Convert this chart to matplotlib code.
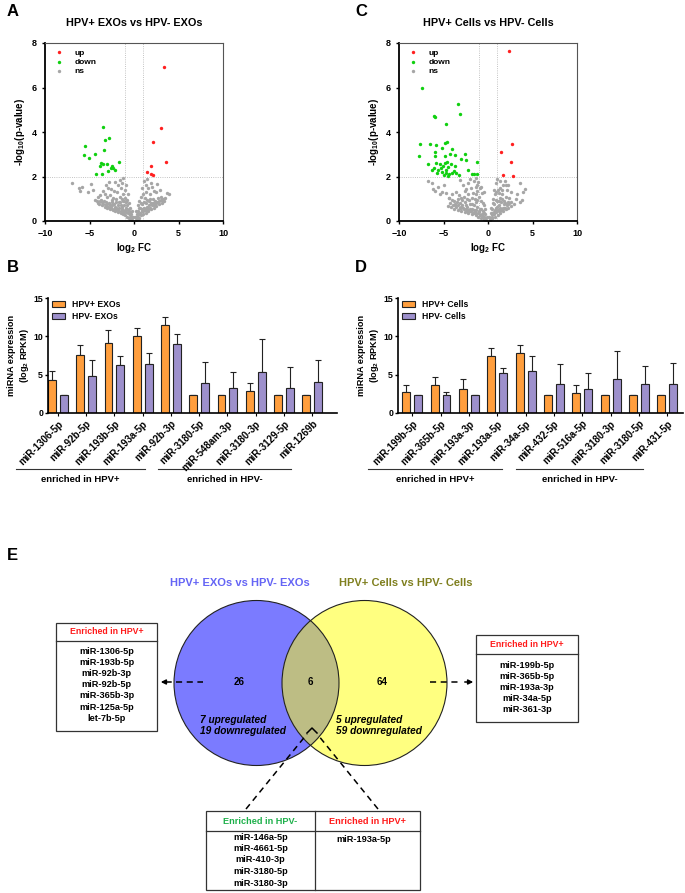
import matplotlib.pyplot as plt
from matplotlib.patches import Circle, Rectangle

plt.rcParams['font.family'] = ['Liberation Sans', 'DejaVu Sans']
plt.rcParams['font.weight'] = 'bold'
plt.rcParams['axes.labelweight'] = 'bold'
plt.rcParams['mathtext.fontset'] = 'custom'
plt.rcParams['mathtext.rm'] = 'Liberation Sans:bold'
plt.rcParams['mathtext.default'] = 'rm'

W, H = 685, 893

# ---------------- volcano data ----------------
a_up_x = [3.35, 3.0, 2.18, 3.57, 1.88, 1.43, 1.88, 2.18]
a_up_y = [6.92, 4.17, 3.54, 2.64, 2.49, 2.19, 2.13, 2.06]
a_down_x = [-3.46, -2.78, -3.27, -5.56, -3.38, -4.36, -5.6, -5.04, -1.65, -3.76,
            -3.46, -3.08, -3.8, -2.48, -2.33, -2.59, -2.14, -2.89, -4.32, -3.65]
a_down_y = [4.23, 3.71, 3.62, 3.38, 3.2, 2.99, 2.96, 2.85, 2.64, 2.6,
            2.55, 2.54, 2.48, 2.45, 2.4, 2.37, 2.31, 2.24, 2.13, 2.1]
a_ns_x = [-0.2, -0.4, -0.6, -0.8, -1.0, -1.2, -1.5, -1.8, -2.1, -2.4, -2.7, -3.0, -3.3, -3.6, -3.9, -4.1,
          -0.3, -0.5, -0.7, -0.9, -1.1, -0.4, -0.6, -0.8, -1.0, -1.3, -1.5, -1.7, -1.4, -1.2, -1.6,
          -2.0, -2.2, -2.5, -2.8, -3.1, -3.4, -3.7, -2.0, -2.4, -2.7, -3.0, -3.3, -1.9, -2.3, -2.6,
          -1.5, -1.8, -1.3, -2.1, -1.6, -1.2, -2.9, -3.5, -3.8, -1.0, -0.9, -4.0, -4.4, -2.8, -3.2,
          -1.1, -0.7, -2.5, -0.3, -0.5, -1.4, -1.9, -2.6, -3.1, -0.2, -0.6,
          -0.15, -0.25, -0.35, -0.45, -0.55, -0.65, -0.75, -0.85, -0.95, -1.05, -1.15, -1.25, -1.35,
          -1.45, -1.55, -1.65, -1.75, -1.85, -1.95, -2.05, -2.15, -2.3, -2.45, -2.6, -2.75, -2.9,
          -3.05, -3.2, -3.45, -3.6, -3.8, -4.2,
          -7.0, -6.2, -6.05, -5.8, -4.8, -5.2, -4.6,
          0.2, 0.4, 0.6, 0.8, 1.0, 1.3, 1.6, 1.9, 2.2, 2.5, 2.8, 3.1, 3.4,
          0.3, 0.5, 0.7, 0.9, 0.4, 0.6, 1.1, 1.3, 1.5, 1.7, 1.2, 1.0, 0.8, 1.4, 1.9, 2.1, 2.4,
          2.7, 3.0, 1.6, 1.8, 2.2, 1.3, 1.1, 1.5, 1.9, 2.5, 0.9, 2.0, 0.2, 0.5, 1.2, 1.6, 2.3,
          0.15, 0.25, 0.35, 0.45, 0.55, 0.65, 0.75, 0.85, 0.95, 1.05, 1.15, 1.25, 1.35, 1.45,
          1.55, 1.65, 1.75, 1.85, 2.0, 2.15, 2.3, 2.45, 2.6, 2.8, 3.0, 3.2,
          2.56, 3.7, 3.9, 3.3, 3.5, 2.9]
a_ns_y = [0.05, 0.1, 0.15, 0.2, 0.25, 0.3, 0.35, 0.4, 0.45, 0.5, 0.55, 0.6, 0.65, 0.7, 0.78, 0.82,
          0.3, 0.4, 0.5, 0.6, 0.7, 0.6, 0.8, 0.95, 1.05, 0.55, 0.7, 0.85, 1.0, 1.2, 1.1,
          0.6, 0.75, 0.7, 0.8, 0.85, 0.9, 0.95, 1.0, 1.05, 1.15, 1.1, 1.2, 1.3, 1.35, 1.45,
          1.5, 1.6, 1.7, 1.75, 1.85, 1.95, 1.5, 1.35, 1.15, 1.4, 1.6, 1.1, 0.95, 1.75, 1.6,
          0.9, 1.2, 0.95, 0.15, 0.25, 0.45, 0.55, 0.6, 0.7, 0.2, 0.35,
          0.2, 0.45, 0.15, 0.3, 0.55, 0.35, 0.7, 0.4, 0.85, 0.5, 0.4, 0.9, 0.65,
          0.45, 0.85, 0.6, 0.5, 0.7, 0.55, 0.85, 0.65, 0.55, 0.85, 0.6, 0.7, 0.65,
          0.75, 0.72, 0.78, 0.85, 0.88, 0.9,
          1.73, 1.47, 1.35, 1.55, 1.68, 1.3, 1.4,
          0.05, 0.1, 0.15, 0.25, 0.3, 0.38, 0.45, 0.52, 0.6, 0.68, 0.75, 0.82, 0.9,
          0.3, 0.45, 0.6, 0.75, 0.7, 0.9, 0.6, 0.8, 0.65, 0.9, 1.05, 1.2, 1.1, 1.3, 0.8, 1.0, 0.9,
          1.05, 1.1, 1.5, 1.2, 1.35, 1.6, 1.8, 1.9, 1.7, 1.3, 1.5, 1.55, 0.2, 0.25, 0.5, 0.6, 0.7,
          0.2, 0.45, 0.15, 0.3, 0.6, 0.35, 0.8, 0.45, 0.55, 0.45, 0.85, 0.55, 0.5, 0.95,
          0.55, 0.7, 0.6, 1.0, 0.7, 0.8, 0.75, 0.8, 0.85, 0.9, 0.95, 0.95,
          1.68, 1.25, 1.22, 0.98, 1.05, 1.4]

c_up_x = [2.36, 2.7, 1.5, 2.62, 1.72, 2.77]
c_up_y = [7.63, 3.48, 3.12, 2.67, 2.07, 2.01]
c_down_x = [-7.38, -3.37, -3.11, -6.1, -5.92, -4.72, -7.64, -6.52, -4.61, -4.87, -5.84, -5.17, -4.0,
            -2.58, -7.79, -5.99, -5.96, -4.87, -4.23, -3.75, -3.03, -2.51, -4.64, -1.24, -6.7, -5.84,
            -5.36, -4.79, -4.19, -6.1, -5.06, -4.49, -3.67, -6.33, -5.66, -4.76, -3.86, -2.28, -5.73,
            -5.13, -4.68, -4.34, -4.08, -3.56, -3.22, -1.8, -1.54, -1.27, -4.94, -4.53, -5.24]
c_down_y = [5.99, 5.24, 4.82, 4.73, 4.67, 4.37, 3.47, 3.47, 3.57, 3.5, 3.41, 3.3, 3.24,
            3.02, 2.93, 3.08, 2.94, 2.91, 2.99, 2.97, 2.78, 2.75, 2.67, 2.64, 2.54, 2.6,
            2.54, 2.6, 2.54, 2.4, 2.45, 2.42, 2.45, 2.3, 2.3, 2.27, 2.25, 2.31, 2.15,
            2.19, 2.15, 2.12, 2.15, 2.16, 2.06, 2.13, 2.09, 2.13, 2.06, 2.03, 2.37]
c_ns_x = [-0.2, -0.5, -0.8, -1.1, -1.4, -1.8, -2.2, -2.6, -3.0, -3.4, -3.8, -4.2, -4.5,
          -0.3, -0.6, -0.9, -1.2, -0.5, -0.8, -1.0, -1.3, -1.6, -1.5, -1.8, -2.0, -2.1, -2.4, -2.6,
          -2.9, -3.2, -3.5, -3.8, -4.1, -1.7, -1.2, -2.3, -2.7, -3.0, -3.3, -1.4, -1.9, -2.5, -1.1,
          -1.6, -2.2, -2.8, -3.6, -4.0, -1.3, -2.0, -3.2, -0.9, -0.7, -4.4, -0.4, -0.7, -1.0, -1.5,
          -2.0, -2.5, -3.1, -3.7, -0.3, -0.6,
          -0.15, -0.3, -0.4, -0.45, -0.6, -0.7, -0.75, -0.85, -1.0, -1.1, -1.2, -1.3, -1.45, -1.55,
          -1.65, -1.75, -1.9, -2.05, -2.2, -2.35, -2.5, -2.7, -2.85, -3.0, -3.15, -3.35, -3.55,
          -3.7, -3.95, -4.3, -1.35, -1.8, -2.4, -2.9, -3.4, -0.5, -0.8, -1.2, -2.6,
          -6.78, -6.29, -6.18, -5.99, -5.36, -5.17, -4.42, -5.6, -4.9, -4.7,
          0.2, 0.5, 0.8, 1.1, 1.4, 1.7, 2.0, 2.3, 2.6,
          0.3, 0.5, 0.7, 0.9, 0.6, 0.8, 1.0, 1.2, 1.3, 1.5, 1.1, 0.9, 1.0, 1.4, 1.6, 1.8, 2.0,
          2.2, 1.7, 2.1, 2.4, 1.3, 1.9, 2.3, 2.6, 0.2, 0.4, 0.7, 1.2, 1.5, 1.9,
          0.15, 0.3, 0.4, 0.45, 0.55, 0.65, 0.75, 0.85, 0.95, 1.05, 1.15, 1.25, 1.35, 1.45,
          1.55, 1.65, 1.75, 1.85, 1.95, 2.1, 2.25, 2.4, 2.55, 0.7, 1.2, 1.6, 2.0, 0.9,
          3.63, 4.12, 3.97, 3.63, 3.82, 2.88, 3.1, 3.3]
c_ns_y = [0.05, 0.1, 0.15, 0.2, 0.25, 0.3, 0.35, 0.4, 0.45, 0.5, 0.55, 0.62, 0.68,
          0.3, 0.45, 0.55, 0.65, 0.7, 0.9, 1.1, 0.85, 0.5, 1.0, 0.75, 0.55, 0.95, 0.65, 0.85,
          0.7, 0.8, 0.85, 0.9, 0.95, 1.25, 1.35, 1.2, 1.1, 1.05, 1.15, 1.55, 1.5, 1.45, 1.75,
          1.8, 1.7, 1.6, 1.3, 1.2, 1.95, 1.9, 1.85, 1.5, 1.25, 1.05, 0.2, 0.25, 0.4, 0.35,
          0.45, 0.55, 0.6, 0.7, 0.15, 0.2,
          0.2, 0.55, 0.1, 0.35, 0.8, 0.3, 0.55, 0.25, 0.45, 0.35, 0.95, 0.5, 0.4, 0.7,
          0.35, 0.55, 0.45, 0.75, 0.5, 0.45, 0.7, 0.55, 0.6, 0.65, 0.6, 0.7, 0.65,
          0.75, 0.72, 0.8, 1.2, 1.05, 1.0, 0.95, 1.0, 1.3, 1.55, 1.6, 1.35,
          1.8, 1.73, 1.43, 1.37, 1.22, 1.31, 1.02, 1.55, 1.6, 1.25,
          0.05, 0.12, 0.2, 0.28, 0.36, 0.44, 0.52, 0.6, 0.68,
          0.35, 0.55, 0.75, 0.6, 1.0, 1.2, 0.9, 0.7, 1.05, 0.85, 1.4, 1.7, 1.9, 1.5, 1.2, 0.9, 1.1,
          0.85, 1.6, 1.4, 1.05, 1.8, 1.8, 1.6, 1.3, 0.15, 0.25, 0.4, 0.45, 0.5, 0.6,
          0.2, 0.6, 0.15, 0.35, 0.8, 0.3, 0.5, 0.95, 0.4, 0.65, 0.5, 0.9, 0.6, 0.5,
          1.0, 0.6, 0.75, 0.6, 0.8, 0.7, 0.75, 0.8, 0.85, 1.4, 1.25, 1.4, 1.6, 1.3,
          1.73, 1.46, 1.29, 0.87, 0.95, 0.77, 1.0, 1.2]

# ---------------- bar data ----------------
b_labels = ['miR-1306-5p', 'miR-92b-5p', 'miR-193b-5p', 'miR-193a-5p', 'miR-92b-3p',
            'miR-3180-5p', 'miR-548am-3p', 'miR-3180-3p', 'miR-3129-5p', 'miR-1269b']
b_pos = [4.35, 7.6, 9.1, 10.1, 11.5, 2.3, 2.3, 2.9, 2.3, 2.3]
b_pos_err = [1.08, 1.3, 1.7, 1.0, 1.0, 0, 0, 1.0, 0, 0]
b_neg = [2.3, 4.8, 6.2, 6.4, 9.0, 3.9, 3.2, 5.35, 3.3, 4.0]
b_neg_err = [0, 2.1, 1.3, 1.4, 1.3, 2.75, 2.15, 4.35, 2.75, 2.9]

d_labels = ['miR-199b-5p', 'miR-365b-5p', 'miR-193a-3p', 'miR-193a-5p', 'miR-34a-5p',
            'miR-432-5p', 'miR-516a-5p', 'miR-3180-3p', 'miR-3180-5p', 'miR-431-5p']
d_pos = [2.75, 3.7, 3.1, 7.5, 7.8, 2.3, 2.6, 2.3, 2.3, 2.3]
d_pos_err = [0.85, 0.95, 1.3, 0.95, 1.07, 0, 1.0, 0, 0, 0]
d_neg = [2.3, 2.4, 2.3, 5.2, 5.43, 3.74, 3.13, 4.48, 3.74, 3.83]
d_neg_err = [0, 0.3, 0, 0.67, 2.05, 2.6, 2.1, 3.6, 2.45, 2.75]

# ---------------- venn data ----------------
venn_counts = [26, 6, 64]
exo_only = ['miR-1306-5p', 'miR-193b-5p', 'miR-92b-3p', 'miR-92b-5p',
            'miR-365b-3p', 'miR-125a-5p', 'let-7b-5p']
cell_only = ['miR-199b-5p', 'miR-365b-5p', 'miR-193a-3p', 'miR-34a-5p', 'miR-361-3p']
shared_neg = ['miR-146a-5p', 'miR-4661-5p', 'miR-410-3p', 'miR-3180-5p', 'miR-3180-3p']
shared_pos = ['miR-193a-5p']

ORANGE = '#FF9E3D'
PURPLE = '#9D90CC'


def rect(l, t, r, b):
    return [l / W, 1 - b / H, (r - l) / W, (b - t) / H]


fig = plt.figure(figsize=(6.85, 8.93), dpi=100)
canvas = fig.add_axes([0, 0, 1, 1])
canvas.set_xlim(0, W)
canvas.set_ylim(H, 0)
canvas.axis('off')


def volcano(box, title, ux, uy, dx, dy, nx, ny):
    ax = fig.add_axes(rect(*box))
    ax.scatter(nx, ny, s=6, color='#A6A6A6', linewidths=0, label='ns', zorder=2)
    ax.scatter(dx, dy, s=6, color='#10D010', linewidths=0, label='down', zorder=3)
    ax.scatter(ux, uy, s=6, color='#FF2020', linewidths=0, label='up', zorder=3)
    for xv in (-1, 1):
        ax.axvline(xv, color='#B0B0B0', lw=0.6, ls=':', zorder=1)
    ax.axhline(2, color='#B0B0B0', lw=0.6, ls=':', zorder=1)
    ax.set_xlim(-10, 10)
    ax.set_ylim(0, 8)
    ax.set_xticks([-10, -5, 0, 5, 10])
    ax.set_yticks([0, 2, 4, 6, 8])
    ax.tick_params(labelsize=6.5, length=2.5, width=1)
    for s in ('left', 'bottom'):
        ax.spines[s].set_linewidth(1.3)
    for s in ('top', 'right'):
        ax.spines[s].set_linewidth(0.8)
        ax.spines[s].set_color('#555555')
    ax.set_xlabel('log$_2$ FC', fontsize=7, labelpad=2, fontweight='bold')
    ax.set_ylabel('-log$_{10}$(p-value)', fontsize=7, labelpad=3, fontweight='bold')
    ax.set_title(title, fontsize=7.8, fontweight='bold', pad=12)
    h, l = ax.get_legend_handles_labels()
    ax.legend(h[::-1], l[::-1], loc='upper left', frameon=False, fontsize=6,
              handletextpad=0.8, labelspacing=0.15, borderaxespad=0.3, markerscale=1.0)
    return ax


volcano((45, 43, 223, 221), 'HPV+ EXOs vs HPV- EXOs', a_up_x, a_up_y, a_down_x, a_down_y, a_ns_x, a_ns_y)
volcano((399, 43, 577, 221), 'HPV+ Cells vs HPV- Cells', c_up_x, c_up_y, c_down_x, c_down_y, c_ns_x, c_ns_y)


def bars(box, labels, pos, pos_err, neg, neg_err, names, xlim):
    ax = fig.add_axes(rect(*box))
    x = list(range(len(labels)))
    xo = [i - 0.21 for i in x]
    xp = [i + 0.21 for i in x]
    ax.bar(xo, pos, width=0.28, color=ORANGE, edgecolor='#222222', lw=0.8, label=names[0], zorder=2)
    ax.bar(xp, neg, width=0.28, color=PURPLE, edgecolor='#222222', lw=0.8, label=names[1], zorder=2)
    ax.errorbar(xo, pos, yerr=[[0] * len(pos), pos_err], fmt='none', ecolor='#222222',
                elinewidth=0.8, capsize=2, capthick=0.8, zorder=1)
    ax.errorbar(xp, neg, yerr=[[0] * len(neg), neg_err], fmt='none', ecolor='#222222',
                elinewidth=0.8, capsize=2, capthick=0.8, zorder=1)
    ax.set_xlim(*xlim)
    ax.set_ylim(0, 15)
    ax.set_yticks([0, 5, 10, 15])
    ax.set_xticks(x)
    ax.set_xticklabels(labels, rotation=45, ha='right', rotation_mode='anchor', fontsize=7.0)
    ax.tick_params(axis='y', labelsize=6.3, length=2.5, width=1, pad=1)
    ax.tick_params(axis='x', length=2, width=0.8, pad=2)
    ax.spines['top'].set_visible(False)
    ax.spines['right'].set_visible(False)
    ax.spines['left'].set_linewidth(1.2)
    ax.spines['bottom'].set_linewidth(1.2)
    ax.set_ylabel('miRNA expression\n(log$_2$ RPKM)', fontsize=6.6, labelpad=2, fontweight='bold')
    ax.legend(loc='upper left', frameon=False, fontsize=6.2, handlelength=1.5, handleheight=0.7,
              labelspacing=0.4, borderaxespad=0.1, bbox_to_anchor=(0.0, 1.02))
    return ax


bars((48, 298, 337, 413), b_labels, b_pos, b_pos_err, b_neg, b_neg_err,
     ['HPV+ EXOs', 'HPV- EXOs'], (-0.35, 9.88))
bars((398, 298, 683, 413), d_labels, d_pos, d_pos_err, d_neg, d_neg_err,
     ['HPV+ Cells', 'HPV- Cells'], (-0.5, 9.55))

# enriched brackets
for (l, r), txt in [((16, 145), 'enriched in HPV+'), ((158, 291), 'enriched in HPV-'),
                    ((368, 502), 'enriched in HPV+'), ((516, 643), 'enriched in HPV-')]:
    canvas.plot([l, r], [469, 469], color='#333333', lw=0.8)
    canvas.text((l + r) / 2, 479, txt, ha='center', va='center', fontsize=6.8)

# panel letters
for x0, y0, letter in [(7, 12, 'A'), (355, 12, 'C'), (7, 268, 'B'), (355, 268, 'D'), (7, 555, 'E')]:
    canvas.text(x0, y0, letter, fontsize=12, fontweight='bold', va='center', ha='left')

# ---------------- Venn ----------------
blue_c = Circle((256.5, 683), 82.5, facecolor='#7B7BFF', edgecolor='none', zorder=2)
yellow_c = Circle((364.5, 683), 82.5, facecolor='#FFFF80', edgecolor='none', zorder=2)
canvas.add_patch(blue_c)
canvas.add_patch(yellow_c)
lens = Circle((364.5, 683), 82.5, facecolor='#BDBD84', edgecolor='none', zorder=3)
canvas.add_patch(lens)
lens.set_clip_path(blue_c)
for cx in (256.5, 364.5):
    canvas.add_patch(Circle((cx, 683), 82.5, facecolor='none', edgecolor='#222222', lw=0.8, zorder=4))

canvas.text(240, 583, 'HPV+ EXOs vs HPV- EXOs', color='#6464F5', fontsize=8, ha='center', va='center')
canvas.text(406, 583, 'HPV+ Cells vs HPV- Cells', color='#7F7F1E', fontsize=8, ha='center', va='center')
for cx, n in zip([239, 310, 382], venn_counts):
    canvas.text(cx, 682, str(n), fontsize=7, ha='center', va='center', zorder=5)
canvas.text(200, 725.5, '7 upregulated\n19 downregulated', fontsize=7.3, style='italic',
            ha='left', va='center', linespacing=1.05, zorder=5)
canvas.text(336, 725.5, '5 upregulated\n59 downregulated', fontsize=7.3, style='italic',
            ha='left', va='center', linespacing=1.05, zorder=5)

# dashed arrows to side boxes
canvas.plot([176, 203], [682, 682], color='black', lw=1.1, ls=(0, (4, 3)), zorder=5)
canvas.annotate('', xy=(158, 682), xytext=(174, 682),
                arrowprops=dict(arrowstyle='-|>', color='black', lw=1.1, mutation_scale=7), zorder=5)
canvas.plot([430, 462], [682, 682], color='black', lw=1.1, ls=(0, (4, 3)), zorder=5)
canvas.annotate('', xy=(476, 682), xytext=(462, 682),
                arrowprops=dict(arrowstyle='-|>', color='black', lw=1.1, mutation_scale=7), zorder=5)

# lines to bottom table
canvas.plot([246, 307], [809, 734], color='black', lw=1.1, ls=(0, (4, 3)), zorder=5)
canvas.plot([378, 318], [809, 735], color='black', lw=1.1, ls=(0, (4, 3)), zorder=5)
canvas.plot([307, 312, 317], [733, 728, 733], color='black', lw=1.1, zorder=5)


def side_box(l, t, r, hdr, y0, step, items, b):
    canvas.add_patch(Rectangle((l, t), r - l, b - t, facecolor='white', edgecolor='#333333', lw=0.9, zorder=5))
    canvas.plot([l, r], [hdr, hdr], color='#333333', lw=0.9, zorder=6)
    canvas.text((l + r) / 2, (t + hdr) / 2, 'Enriched in HPV+', color='#FF1A1A', fontsize=6.3,
                ha='center', va='center', zorder=6)
    for i, it in enumerate(items):
        canvas.text((l + r) / 2, y0 + i * step, it, fontsize=6.6, ha='center', va='center', zorder=6)


side_box(56, 623, 157, 641, 651, 11.2, exo_only, 731)
side_box(476, 635, 578, 654, 665, 11.25, cell_only, 722)

# bottom table
canvas.add_patch(Rectangle((206, 811), 214, 79, facecolor='white', edgecolor='#333333', lw=0.9, zorder=5))
canvas.plot([206, 420], [831, 831], color='#333333', lw=0.9, zorder=6)
canvas.plot([315, 315], [811, 890], color='#333333', lw=0.9, zorder=6)
canvas.text(260.5, 821, 'Enriched in HPV-', color='#1DB04A', fontsize=6.6, ha='center', va='center', zorder=6)
canvas.text(367.5, 821, 'Enriched in HPV+', color='#FF1A1A', fontsize=6.6, ha='center', va='center', zorder=6)
for i, it in enumerate(shared_neg):
    canvas.text(260.5, 837 + i * 11.5, it, fontsize=6.6, ha='center', va='center', zorder=6)
for i, it in enumerate(shared_pos):
    canvas.text(364, 839 + i * 11.5, it, fontsize=6.6, ha='center', va='center', zorder=6)

plt.savefig('out.png', dpi=100)
